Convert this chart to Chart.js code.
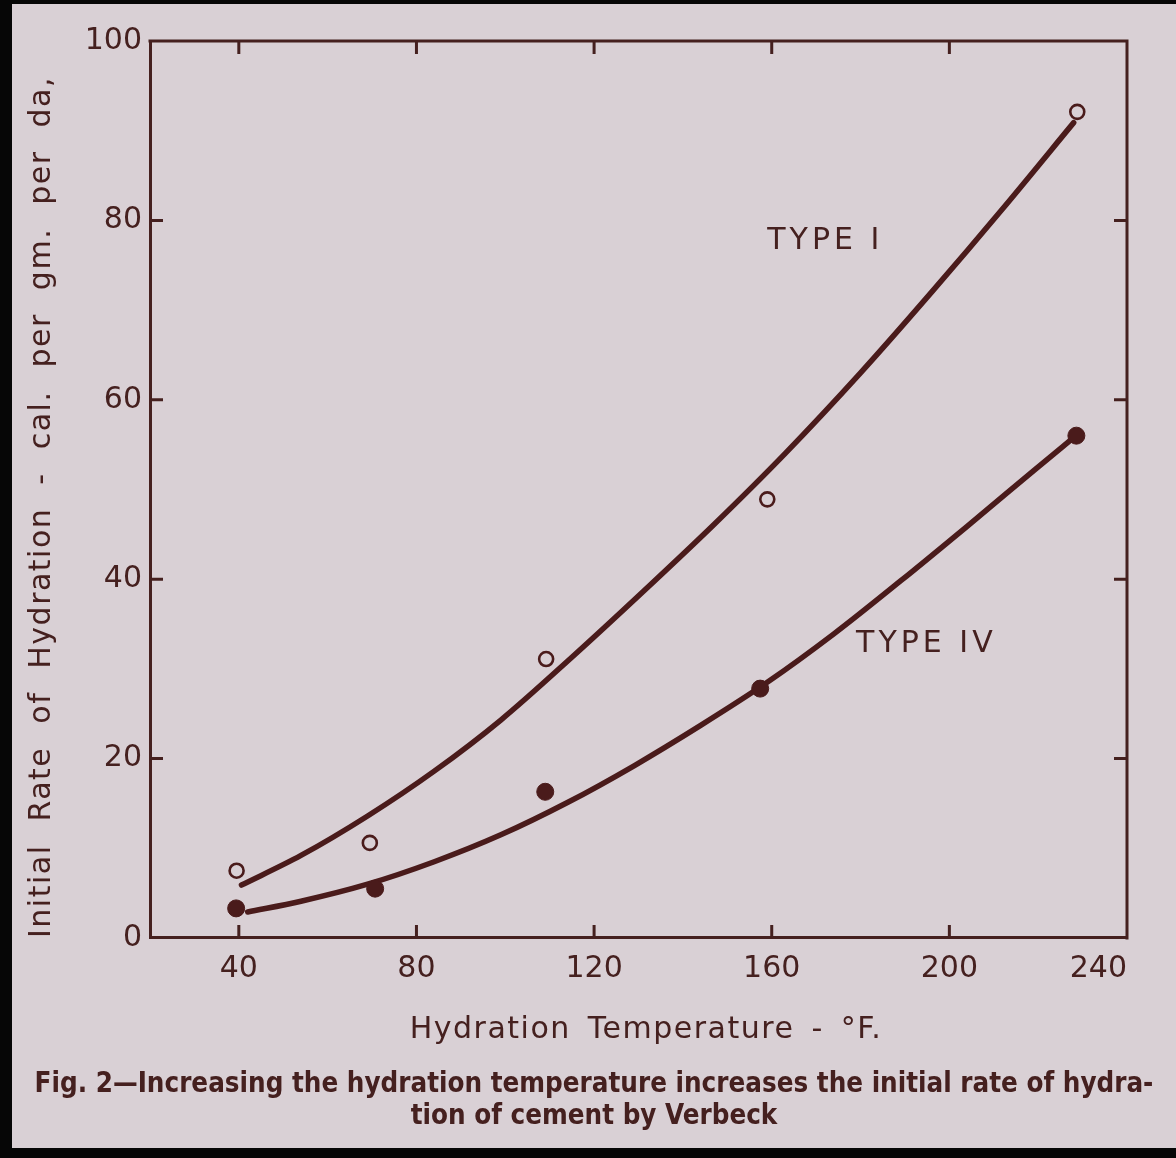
<!DOCTYPE html>
<html><head><meta charset="utf-8">
<script src="https://cdn.jsdelivr.net/npm/chart.js@4/dist/chart.umd.min.js"></script>
<style>html,body{margin:0;padding:0;background:#000;}canvas{display:block;}</style>
</head><body>
<canvas id="c" width="1176" height="1158"></canvas>
<script>
// ---- data ----
const temperatureTicks = [40, 80, 120, 160, 200, 240];
const rateTicks = [0, 20, 40, 60, 80, 100];
const typeIPointsX = [39.5, 69.5, 109.2, 159, 228.8];
const typeIPointsY = [7.5, 10.6, 31.1, 48.9, 92.1];
const typeIVPointsX = [39.4, 70.7, 109, 157.4, 228.6];
const typeIVPointsY = [3.3, 5.5, 16.3, 27.8, 56.0];
const typeICurveX = [40.6, 54, 69, 84, 99, 115, 131, 147, 163, 180, 196, 212, 228];
const typeICurveY = [5.9, 9.2, 13.6, 18.6, 24.3, 31.3, 38.6, 46.1, 54.0, 63.0, 72.0, 81.3, 90.9];
const typeIVCurveX = [42, 54, 69, 84, 99, 114, 129, 144, 159, 174, 189, 204, 219, 228.5];
const typeIVCurveY = [2.9, 4.1, 6.0, 8.5, 11.5, 15.1, 19.2, 23.7, 28.5, 33.9, 39.8, 45.9, 52.1, 56.0];
const seriesLabels = ['TYPE I', 'TYPE IV'];
const xTitle = 'Hydration Temperature - °F.';
const yTitle = 'Initial Rate of Hydration - cal. per gm. per da,';
const captionLines = [
  'Fig. 2\u2014Increasing the hydration temperature increases the initial rate of hydra-',
  'tion of cement by Verbeck'
];

const INK = '#45201f';
const LINE = '#4a1b1b';
const PAPER = '#d9d0d5';
const zip = (xs, ys) => xs.map((x, i) => ({x: x, y: ys[i]}));

const paperPlugin = {
  id: 'paper',
  beforeDraw(chart) {
    const {ctx, width, height} = chart;
    ctx.save();
    ctx.fillStyle = '#060606';
    ctx.fillRect(0, 0, width, height);
    ctx.fillStyle = PAPER;
    ctx.fillRect(12, 4, width - 12, height - 14);
    ctx.restore();
  }
};

const framePlugin = {
  id: 'frame',
  beforeDatasetsDraw(chart) {
    const {ctx, chartArea: a, scales} = chart;
    const x = scales.x, y = scales.y;
    ctx.save();
    ctx.strokeStyle = INK;
    ctx.lineWidth = 3;
    ctx.lineCap = 'square';
    ctx.beginPath();
    ctx.moveTo(a.left, a.top); ctx.lineTo(a.right, a.top); ctx.lineTo(a.right, a.bottom);
    ctx.stroke();
    const L = 13;
    ctx.lineCap = 'butt';
    ctx.beginPath();
    temperatureTicks.forEach(v => {
      const px = x.getPixelForValue(v);
      if (px > a.left + 3 && px < a.right - 3) {
        ctx.moveTo(px, a.bottom); ctx.lineTo(px, a.bottom - L);
        ctx.moveTo(px, a.top); ctx.lineTo(px, a.top + L);
      }
    });
    rateTicks.forEach(v => {
      const py = y.getPixelForValue(v);
      if (py > a.top + 3 && py < a.bottom - 3) {
        ctx.moveTo(a.left, py); ctx.lineTo(a.left + L, py);
        ctx.moveTo(a.right, py); ctx.lineTo(a.right - L, py);
      }
    });
    ctx.stroke();
    ctx.restore();
  }
};

// text drawn with letter spacing (series labels and axis titles)
const textPlugin = {
  id: 'spacedText',
  afterDatasetsDraw(chart) {
    const {ctx, scales} = chart;
    const anchors = [[159, 77.7], [179, 32.7]];
    ctx.save();
    ctx.fillStyle = INK;
    ctx.font = '30px "DejaVu Sans"';
    ctx.textBaseline = 'middle';
    ctx.textAlign = 'left';
    ctx.letterSpacing = '4px';
    seriesLabels.forEach((t, i) => {
      ctx.fillText(t, scales.x.getPixelForValue(anchors[i][0]), scales.y.getPixelForValue(anchors[i][1]));
    });
    ctx.restore();
  },
  afterDraw(chart) {
    const {ctx} = chart;
    ctx.save();
    ctx.fillStyle = INK;
    ctx.font = '30px "DejaVu Sans"';
    ctx.textBaseline = 'middle';
    ctx.textAlign = 'center';
    ctx.letterSpacing = '1.5px';
    ctx.wordSpacing = '6px';
    ctx.fillText(xTitle, 646, 1030);
    ctx.translate(42, 507);
    ctx.rotate(-Math.PI / 2);
    ctx.wordSpacing = '12px';
    ctx.fillText(yTitle, 0, 0);
    ctx.restore();
  }
};

const curveStyle = {showLine: true, pointRadius: 0, borderWidth: 5.5, borderColor: LINE,
  cubicInterpolationMode: 'monotone', borderCapStyle: 'round', order: 2};

new Chart(document.getElementById('c'), {
  type: 'scatter',
  data: {
    datasets: [
      Object.assign({label: 'Type I curve', data: zip(typeICurveX, typeICurveY)}, curveStyle),
      Object.assign({label: 'Type IV curve', data: zip(typeIVCurveX, typeIVCurveY)}, curveStyle),
      {label: 'Type I', data: zip(typeIPointsX, typeIPointsY), showLine: false, pointRadius: 7,
       pointBorderWidth: 2.6, pointBackgroundColor: PAPER, pointBorderColor: LINE, order: 0},
      {label: 'Type IV', data: zip(typeIVPointsX, typeIVPointsY), showLine: false, pointRadius: 8.5,
       pointBorderWidth: 1, pointBackgroundColor: LINE, pointBorderColor: LINE, order: 0}
    ]
  },
  options: {
    responsive: false,
    animation: false,
    layout: {padding: {top: 41, left: 12, right: 0, bottom: 10}},
    plugins: {
      legend: {display: false},
      tooltip: {enabled: false},
      title: {display: true, position: 'bottom', text: captionLines, color: INK,
        font: {family: '"DejaVu Sans Condensed", "Liberation Sans Narrow", sans-serif', weight: 'bold', size: 27.5, lineHeight: 1.164},
        padding: {top: 1, bottom: 15}}
    },
    scales: {
      x: {
        type: 'linear', min: 20, max: 240,
        afterBuildTicks: s => { s.ticks = [20].concat(temperatureTicks).map(v => ({value: v})); },
        afterFit: s => { s.height = 130; },
        grid: {display: false, drawTicks: false},
        border: {display: true, color: INK, width: 3},
        ticks: {autoSkip: false, maxRotation: 0, align: 'inner', padding: 13, color: INK,
          font: {family: '"DejaVu Sans"', size: 30},
          callback: v => temperatureTicks.includes(v) ? String(v) : ''},
        title: {display: false}
      },
      y: {
        type: 'linear', min: 0, max: 100,
        afterBuildTicks: s => { s.ticks = rateTicks.map(v => ({value: v})); },
        afterFit: s => { s.width = 138; },
        grid: {display: false, drawTicks: false},
        border: {display: true, color: INK, width: 3},
        ticks: {autoSkip: false, padding: 8, color: INK, font: {family: '"DejaVu Sans"', size: 30}},
        title: {display: false}
      },
      yr: {
        type: 'linear', position: 'right', display: true,
        afterFit: s => { s.width = 49; },
        grid: {display: false, drawTicks: false},
        border: {display: false},
        ticks: {display: false}
      }
    }
  },
  plugins: [paperPlugin, framePlugin, textPlugin]
});
</script>
</body></html>
